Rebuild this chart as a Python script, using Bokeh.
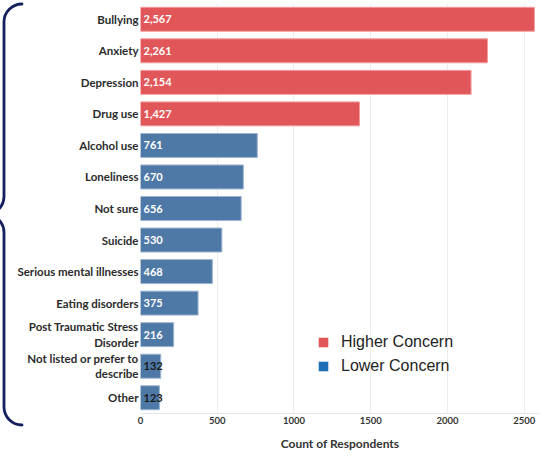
from bokeh.plotting import figure
from bokeh.layouts import row
from bokeh.models import (FactorRange, ColumnDataSource, Legend, LegendItem,
                          FixedTicker, Div)
from bokeh.core.properties import value
from bokeh.embed import file_html
from bokeh.resources import INLINE

# ---------------- data ----------------
categories = ["Bullying", "Anxiety", "Depression", "Drug use", "Alcohol use",
              "Loneliness", "Not sure", "Suicide", "Serious mental illnesses",
              "Eating disorders", "Post Traumatic Stress\nDisorder",
              "Not listed or prefer to\ndescribe", "Other"]
counts = [2567, 2261, 2154, 1427, 761, 670, 656, 530, 468, 375, 216, 132, 123]
concern = ["Higher Concern", "Higher Concern", "Higher Concern", "Higher Concern",
           "Lower Concern", "Lower Concern", "Lower Concern", "Lower Concern",
           "Lower Concern", "Lower Concern", "Lower Concern", "Lower Concern",
           "Lower Concern"]
x_ticks = [0, 500, 1000, 1500, 2000, 2500]
legend_labels = ["Higher Concern", "Lower Concern"]

# ---------------- styles ----------------
bar_fill = {"Higher Concern": "#e15759", "Lower Concern": "#4e79a7"}
bar_line = {"Higher Concern": "#f29c9d", "Lower Concern": "#9db4cf"}
swatch = {"Higher Concern": "#e15759", "Lower Concern": "#1f6fb4"}
FONT = "Lato"

W, H = 548, 456
BRACE_W = 14
LEFT, RIGHT, TOP, BOTTOM = 139, 9, 3, 43

src = ColumnDataSource(dict(
    cat=categories,
    count=counts,
    fill=[bar_fill[c] for c in concern],
    line=[bar_line[c] for c in concern],
    label=[f"{c:,}" for c in counts],
    tcolor=["#ffffff" if c >= 200 else "#1a1a1a" for c in counts],
))

p = figure(width=W - BRACE_W, height=H, title=None,
           y_range=FactorRange(factors=categories[::-1]),
           x_range=(0, 2600), output_backend="svg", toolbar_location=None,
           min_border_left=LEFT - BRACE_W, min_border_right=RIGHT,
           min_border_top=TOP, min_border_bottom=BOTTOM)
p.y_range.range_padding = 0
p.outline_line_color = None
p.background_fill_color = "white"
p.border_fill_color = "white"
p.border_fill_alpha = 0
p.ygrid.grid_line_color = None
p.xgrid.grid_line_color = "#ededed"
p.xgrid.ticker = FixedTicker(ticks=x_ticks)

p.hbar(y="cat", left=0, right="count", height=0.76, source=src,
       fill_color="fill", line_color="line", line_width=1)
p.text(x=0, y="cat", text="label", source=src, x_offset=3,
       text_baseline="middle", text_align="left", text_font=value(FONT),
       text_font_style="bold", text_font_size="11px", text_color="tcolor")

# x axis
xa = p.xaxis[0]
xa.ticker = FixedTicker(ticks=x_ticks)
xa.axis_label = "Count of Respondents"
xa.axis_label_text_font = FONT
xa.axis_label_text_font_style = "bold"
xa.axis_label_text_font_size = "12px"
xa.axis_label_text_color = "#333333"
xa.axis_label_standoff = 9
xa.major_label_text_font = FONT
xa.major_label_text_font_style = "bold"
xa.major_label_text_font_size = "9.5px"
xa.major_label_text_color = "#333333"
xa.major_label_standoff = 3
xa.major_tick_out = 0
xa.major_tick_in = 0
xa.minor_tick_out = 0
xa.minor_tick_in = 0
xa.major_tick_line_color = None
xa.minor_tick_line_color = None
xa.axis_line_color = "#e6e6e6"

# y axis
ya = p.yaxis[0]
ya.major_label_text_font = FONT
ya.major_label_text_font_style = "bold"
ya.major_label_text_font_size = "11.5px"
ya.major_label_text_color = "#2b2b2b"
ya.major_label_standoff = 2
ya.major_tick_out = 0
ya.major_tick_in = 0
ya.minor_tick_out = 0
ya.minor_tick_in = 0
ya.major_tick_line_color = None
ya.minor_tick_line_color = None
ya.axis_line_color = None

# legend (swatches through invisible helper renderers)
items = []
for lab in legend_labels:
    r = p.scatter(x=[0], y=[categories[0]], marker="square", size=0,
                  fill_color=swatch[lab], line_color=None)
    items.append(LegendItem(label=lab, renderers=[r]))
legend = Legend(items=items, location=(171, 35), glyph_width=24, glyph_height=24,
                label_height=24, spacing=0, padding=0, margin=0, label_standoff=6,
                border_line_color=None, background_fill_alpha=0,
                label_text_font="Liberation Sans", label_text_font_size="16px",
                label_text_color="#222222")
p.add_layout(legend)

# curly brace on the left (decoration drawn as inline SVG in a narrow Div)
R = 18
bx = 4
top_y, bot_y = 4, 425
mid_y = (top_y + bot_y) / 2
d = (f"M {bx + R} {top_y} A {R} {R} 0 0 0 {bx} {top_y + R} "
     f"L {bx} {mid_y - R} A {R} {R} 0 0 1 {bx - R} {mid_y} "
     f"A {R} {R} 0 0 1 {bx} {mid_y + R} "
     f"L {bx} {bot_y - R} A {R} {R} 0 0 0 {bx + R} {bot_y}")
svg = (f'<svg xmlns="http://www.w3.org/2000/svg" width="{BRACE_W + 10}" height="{H}" '
       f'style="display:block;overflow:visible">'
       f'<path d="{d}" fill="none" stroke="#15215e" stroke-width="2.8" '
       f'stroke-linecap="round"/></svg>')
brace = Div(text=svg, width=BRACE_W, height=H,
            styles={"margin": "0", "padding": "0", "overflow": "visible"})

layout = row(brace, p, spacing=0)
open("out.html", "w").write(file_html(layout, INLINE))
